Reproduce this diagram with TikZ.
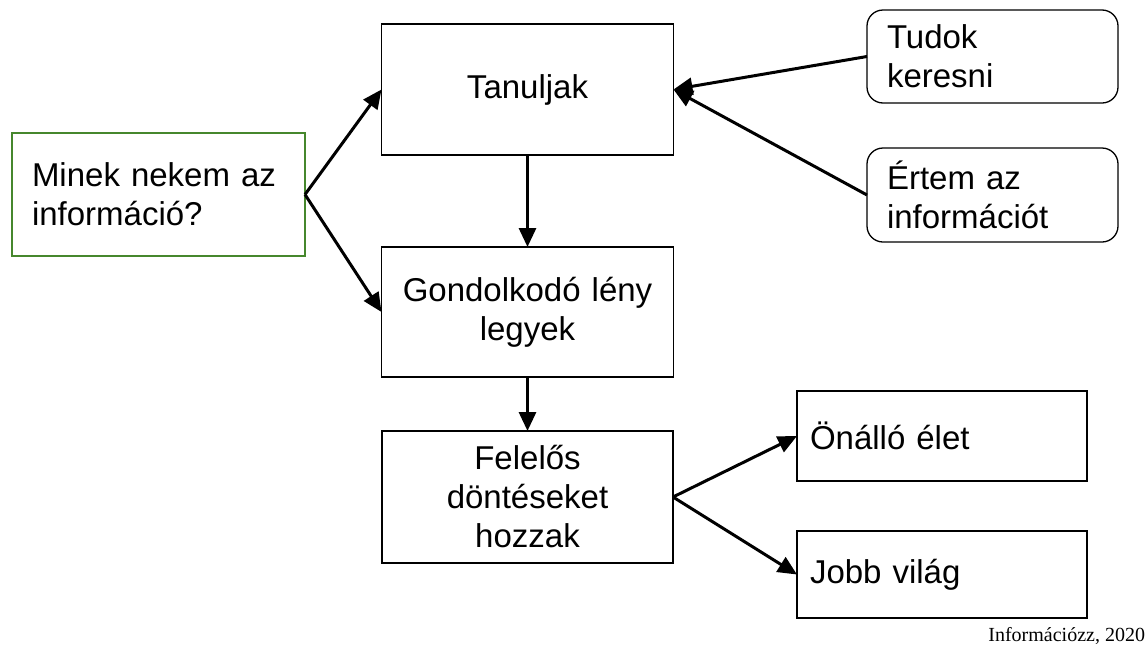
\documentclass[tikz,border=0pt]{standalone}
\usepackage{fontspec}
\setmainfont{Liberation Sans}
\newfontfamily\creditfont{Liberation Serif}
\usetikzlibrary{arrows.meta}
\definecolor{boxgreen}{RGB}{70,135,45}
\begin{document}
\begin{tikzpicture}[x=1pt,y=-1pt,
  every node/.style={font=\fontsize{33}{39}\selectfont, inner sep=0pt, outer sep=0pt},
  boxc/.style={draw=black, line width=1.3pt, minimum width=#1, text width=#1-20pt, align=center},
  boxl/.style={draw=black, line width=1.3pt, minimum width=#1, text width=#1-40pt, align=left},
  rbox/.style={boxl=#1, rounded corners=16pt},
  link/.style={line width=3pt, -{Triangle[length=19pt,width=17pt]}}
]
\useasboundingbox (0,0) rectangle (1148,654);

% start box
\node[boxl=293pt, draw=boxgreen, line width=2.5pt, minimum height=123pt] (q) at (158.5,194.5)
  {Minek nekem az\\információ?};

% central chain
\node[boxc=292pt, minimum height=131pt] (tan) at (527.5,89.5) {Tanuljak};
\node[boxc=292pt, minimum height=130pt] (gond) at (527.5,312) {Gondolkodó lény\\legyek};
\node[boxc=291pt, minimum height=132pt] (fel) at (527.5,497) {Felelős\\döntéseket\\hozzak};

% skills feeding into learning
\node[rbox=251pt, minimum height=93pt] (tudok) at (992.5,56.5) {Tudok\\keresni};
\node[rbox=251pt, minimum height=94pt] (ertem) at (992.5,195) {Értem az\\információt};

% outcomes
\node[boxl=290pt, text width=264pt, minimum height=90pt] (onallo) at (942,436) {Önálló élet};
\node[boxl=290pt, text width=264pt, minimum height=87pt] (jobb) at (942,574.5) {Jobb világ};

% connectors
\draw[link] (q.east) -- (tan.west);
\draw[link] (q.east) -- (gond.west);
\draw[link] (tan.south) -- (gond.north);
\draw[link] (gond.south) -- (fel.north);
\draw[link] (tudok.west) -- (tan.east);
\draw[link] (ertem.west) -- (tan.east);
\draw[link] (fel.east) -- (onallo.west);
\draw[link] (fel.east) -- (jobb.west);

% credit line
\node[font=\creditfont\fontsize{20}{24}\selectfont, anchor=base east] (credit) at (1145,641) {Információzz, 2020};
\end{tikzpicture}
\end{document}
